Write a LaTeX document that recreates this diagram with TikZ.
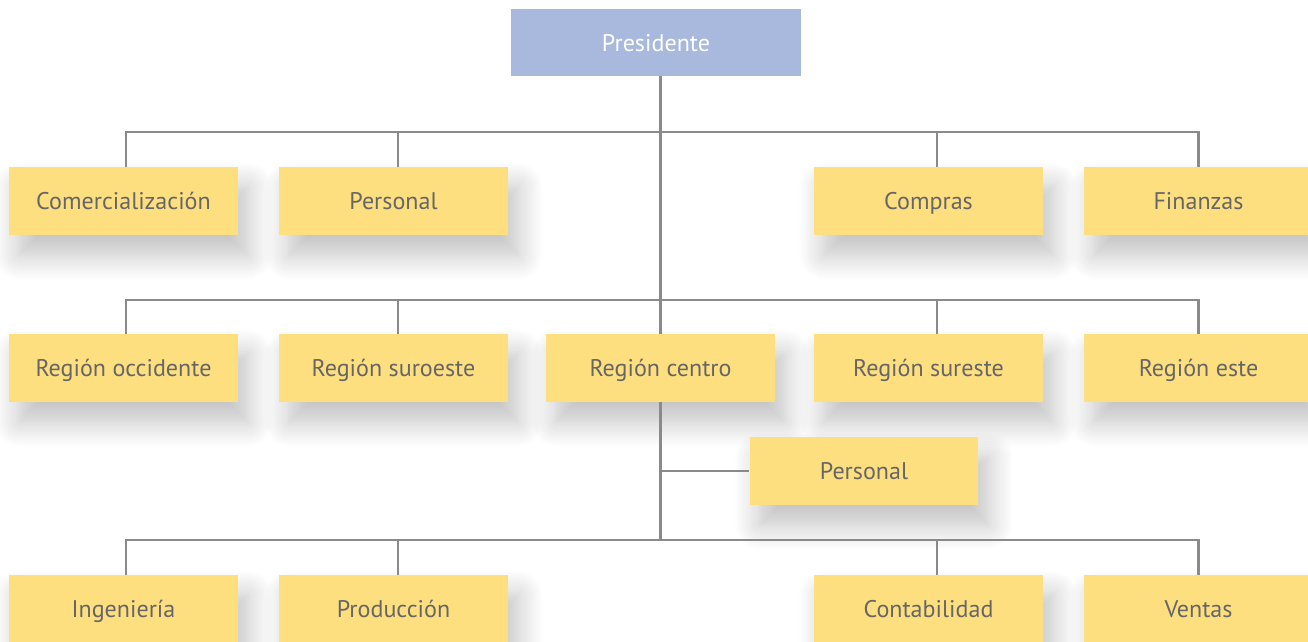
\documentclass[tikz,border=0pt]{standalone}
\usepackage{fontspec}
\setmainfont{PT Sans}
\usetikzlibrary{positioning,calc,shadows.blur}
\definecolor{boxyellow}{HTML}{FDDF80}
\definecolor{boxblue}{HTML}{A8B9DD}
\definecolor{txtgray}{HTML}{666666}
\definecolor{linegray}{HTML}{8A8A8A}

\tikzset{
  unit/.style={fill=boxyellow, text=txtgray, inner sep=0pt,
    minimum width=4.58cm, minimum height=1.36cm,
    text height=2.3ex, text depth=0.3ex,
    font=\fontsize{13.7}{16}\selectfont,
    blur shadow={shadow xshift=0.2cm, shadow yshift=-0.4cm,
      shadow blur radius=0.5cm, shadow blur steps=12, shadow opacity=25}},
  head/.style={fill=boxblue, text=white, inner sep=0pt,
    minimum width=5.8cm, minimum height=1.34cm,
    text height=2.3ex, text depth=0.3ex,
    font=\fontsize{13.7}{16}\selectfont},
  link/.style={draw=linegray, line width=1.5pt},
}

\begin{document}
\begin{tikzpicture}[x=0.02cm,y=-0.02cm]
\useasboundingbox (0,0) rectangle (1308,642);

\node[head] (pres) at (656,42.5) {Presidente};

% first level
\node[unit] (com)  at (123.5,201) {Comercialización};
\node[unit] (perA) at (393.5,201) {Personal};
\node[unit] (comp) at (928.5,201) {Compras};
\node[unit] (fin)  at (1198.5,201) {Finanzas};

% regions
\node[unit] (roc) at (123.5,368) {Región occidente};
\node[unit] (rso) at (393.5,368) {Región suroeste};
\node[unit] (rce) at (660.5,368) {Región centro};
\node[unit] (rse) at (928.5,368) {Región sureste};
\node[unit] (res) at (1198.5,368) {Región este};

\node[unit] (perB) at (864,471) {Personal};

% third level
\node[unit] (ing) at (123.5,609) {Ingeniería};
\node[unit] (pro) at (393.5,609) {Producción};
\node[unit] (con) at (928.5,609) {Contabilidad};
\node[unit] (ven) at (1198.5,609) {Ventas};

\coordinate (bus1) at (660.5,132);
\coordinate (bus2) at (660.5,300);
\coordinate (bus3) at (660.5,540);

\begin{scope}[on background layer/.try]
\draw[link] (pres.south -| rce.north) -- (rce.north);
\draw[link] ([xshift=0.05cm]com.north) |- (bus1) -| (fin.north);
\draw[link] ([xshift=0.09cm]perA.north) -- ([xshift=0.09cm]perA.north |- bus1);
\draw[link] ([xshift=0.17cm]comp.north) -- ([xshift=0.17cm]comp.north |- bus1);

\draw[link] ([xshift=0.05cm]roc.north) |- (bus2) -| (res.north);
\draw[link] ([xshift=0.09cm]rso.north) -- ([xshift=0.09cm]rso.north |- bus2);
\draw[link] ([xshift=0.17cm]rse.north) -- ([xshift=0.17cm]rse.north |- bus2);

\draw[link] (rce.south) -- (bus3);
\draw[link] (rce.south |- perB.west) -- (perB.west);
\draw[link] ([xshift=0.05cm]ing.north) |- (bus3) -| (ven.north);
\draw[link] ([xshift=0.09cm]pro.north) -- ([xshift=0.09cm]pro.north |- bus3);
\draw[link] ([xshift=0.17cm]con.north) -- ([xshift=0.17cm]con.north |- bus3);
\end{scope}

\end{tikzpicture}
\end{document}
